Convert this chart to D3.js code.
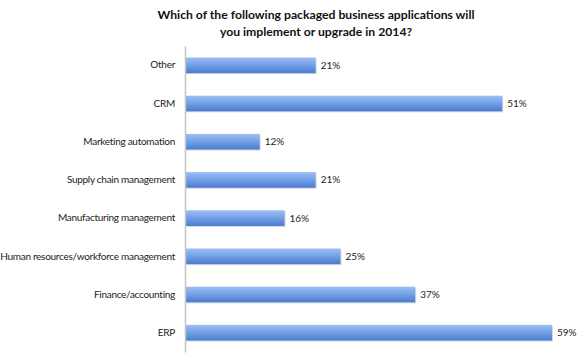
<!DOCTYPE html>
<html>
<head>
<meta charset="utf-8">
<script src="https://cdn.jsdelivr.net/npm/d3@7"></script>
<style>
  body { margin: 0; background: #fff; }
  .title { font-family: Lato, "Open Sans", sans-serif; font-weight: bold; font-size: 12.2px; fill: #111; }
  .cat { font-family: Lato, "Open Sans", sans-serif; font-size: 10px; fill: #222; letter-spacing: -0.28px; }
  .val { font-family: Lato, "Open Sans", sans-serif; font-size: 10px; fill: #222; }
</style>
</head>
<body>
<div id="chart"></div>
<script>
// data
const categories = ["Other", "CRM", "Marketing automation", "Supply chain management",
  "Manufacturing management", "Human resources/workforce management", "Finance/accounting", "ERP"]
const values = [21, 51, 12, 21, 16, 25, 37, 59]
const titleLines = ["Which of the following packaged business applications will",
  "you implement or upgrade in 2014?"]

function drawBarChart() {
  const dataset = categories.map((c, i) => ({ name: c, value: values[i] }))

  let dimensions = {
    width: 580,
    height: 359,
    margin: { top: 46, right: 28, bottom: 7, left: 185 },
  }
  dimensions.boundedWidth = dimensions.width - dimensions.margin.left - dimensions.margin.right
  dimensions.boundedHeight = dimensions.height - dimensions.margin.top - dimensions.margin.bottom

  const wrapper = d3.select("#chart").append("svg")
    .attr("width", dimensions.width)
    .attr("height", dimensions.height)

  const defs = wrapper.append("defs")
  const grad = defs.append("linearGradient")
    .attr("id", "barGrad")
    .attr("x1", 0).attr("x2", 0).attr("y1", 0).attr("y2", 1)
  grad.append("stop").attr("offset", "0%").attr("stop-color", "#9dbff5")
  grad.append("stop").attr("offset", "45%").attr("stop-color", "#76a2e8")
  grad.append("stop").attr("offset", "100%").attr("stop-color", "#4a7ccd")

  const bounds = wrapper.append("g")
    .attr("transform", `translate(${dimensions.margin.left},${dimensions.margin.top})`)

  // scales
  const xScale = d3.scaleLinear()
    .domain([0, 59])
    .range([0, 367])

  const yScale = d3.scaleBand()
    .domain(categories)
    .range([0, dimensions.boundedHeight])
    .paddingInner(0.59)
    .paddingOuter(0.3)

  // title
  wrapper.selectAll(".title")
    .data(titleLines)
    .join("text")
      .attr("class", "title")
      .attr("x", 316)
      .attr("y", (d, i) => 19 + i * 17)
      .attr("text-anchor", "middle")
      .text(d => d)

  // bar shadows + bars
  bounds.selectAll(".shadow")
    .data(dataset)
    .join("rect")
      .attr("class", "shadow")
      .attr("x", 0)
      .attr("y", d => yScale(d.name) + 1)
      .attr("width", d => xScale(d.value) + 1)
      .attr("height", yScale.bandwidth())
      .attr("fill", "#d4d8de")

  bounds.selectAll(".bar")
    .data(dataset)
    .join("rect")
      .attr("class", "bar")
      .attr("x", 0)
      .attr("y", d => yScale(d.name))
      .attr("width", d => xScale(d.value))
      .attr("height", yScale.bandwidth())
      .attr("fill", "url(#barGrad)")

  // value labels
  bounds.selectAll(".val")
    .data(dataset)
    .join("text")
      .attr("class", "val")
      .attr("x", d => xScale(d.value) + 5)
      .attr("y", d => yScale(d.name) + yScale.bandwidth() / 2)
      .attr("dy", "0.35em")
      .text(d => d.value + "%")

  // category axis
  const yAxis = bounds.append("g")
    .call(d3.axisLeft(yScale).tickSize(0).tickPadding(10))
  yAxis.select(".domain").attr("stroke", "#c4c4c4").attr("stroke-width", 1.5)
  yAxis.selectAll("text").attr("class", "cat").attr("font-size", null).attr("font-family", null)
}

drawBarChart()
</script>
</body>
</html>
